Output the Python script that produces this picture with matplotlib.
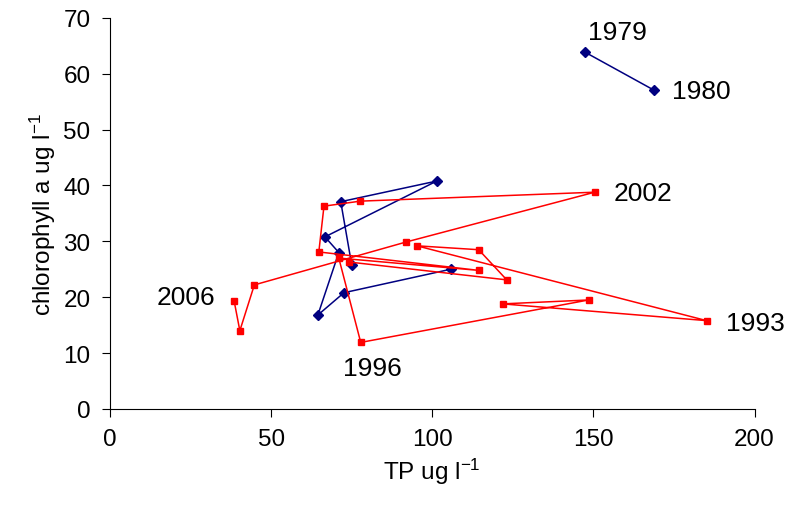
import numpy as np
import matplotlib
matplotlib.use("Agg")
import matplotlib.pyplot as plt

plt.rcParams['font.family'] = ['Liberation Sans', 'DejaVu Sans']
plt.rcParams['mathtext.default'] = 'regular'

# 1979-1988 (blue), gap after 1980
tp_early = [147.3, 168.7, np.nan, 105.7, 72.6, 64.5, 71.0, 66.7, 101.4, 71.6, 75.0]
chl_early = [63.9, 57.1, np.nan, 25.0, 20.8, 16.8, 28.0, 30.8, 40.8, 37.1, 25.8]

# 1989-2006 (red)
tp_late = [74.1, 123.1, 114.4, 95.2, 185.1, 121.8, 148.5, 77.8, 71.0, 114.4,
           64.8, 66.4, 77.7, 150.4, 92.0, 44.8, 40.3, 38.5]
chl_late = [26.3, 23.1, 28.5, 29.2, 15.8, 18.8, 19.5, 11.9, 27.0, 24.8,
            28.1, 36.3, 37.2, 38.8, 29.9, 22.2, 14.0, 19.4]

# year annotations
year_labels = ["1979", "1980", "1993", "1996", "2002", "2006"]
label_pos = [(157.5, 67.4), (174.3, 57.0), (191.0, 15.3), (81.5, 7.3), (156.3, 38.6), (23.5, 20.1)]
label_ha = ['center', 'left', 'left', 'center', 'left', 'center']

fig = plt.figure(figsize=(7.91, 5.06), dpi=100)
ax = fig.add_axes([0.139, 0.19, 0.815, 0.7725])

ax.plot(tp_early, chl_early, color='#000080', marker='D', markersize=5, linewidth=1.1)
ax.plot(tp_late, chl_late, color='#ff0000', marker='s', markersize=5, linewidth=1.1)

for lab, (x, y), ha in zip(year_labels, label_pos, label_ha):
    ax.text(x, y, lab, fontsize=19, ha=ha, va='center')

ax.set_xlim(0, 200)
ax.set_ylim(0, 70)
ax.set_xticks([0, 50, 100, 150, 200])
ax.set_yticks(range(0, 71, 10))
ax.spines['top'].set_visible(False)
ax.spines['right'].set_visible(False)
ax.tick_params(direction='out', length=6, labelsize=17.5, pad=8)
ax.set_xlabel("TP ug l$^{-1}$", fontsize=17.5)
ax.set_ylabel("chlorophyll a ug l$^{-1}$", fontsize=17.5)

fig.savefig("out.png", dpi=100)
